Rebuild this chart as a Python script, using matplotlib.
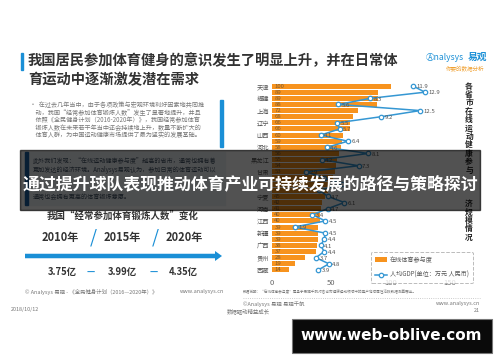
import matplotlib
matplotlib.use("Agg")
import matplotlib.pyplot as plt
from matplotlib.patches import Rectangle, FancyArrow
from matplotlib.lines import Line2D

plt.rcParams['font.family'] = ['Noto Sans CJK SC', 'DejaVu Sans']

W, H = 500, 362

provinces = ["天津", "北京", "福建", "浙江", "上海", "江苏", "辽宁", "广东", "山西", "重庆",
             "河北", "内蒙古", "黑龙江", "山东", "甘肃", "湖北", "吉林", "陕西", "宁夏", "青海",
             "河南", "湖南", "江西", "四川", "新疆", "安徽", "广西", "海南", "贵州", "云南", "西藏"]
participation = [100, 89, 89, 88, 72, 68, 66, 66, 60, 59, 58, 56, 55, 54, 53, 51, 49, 47,
                 45, 42, 41, 40, 40, 39, 39, 39, 38, 37, 28, 19, 14]
gdp = [11.9, 12.9, 8.3, 5.6, 12.5, 9.2, 5.5, 5.7, 4.1, 6.4, 4.6, 8.1, 4.2, 7.3, 2.9, 4.4,
       5.9, 4.0, 4.7, 6.1, 4.7, 3.4, 4.5, 1.9, 4.5, 4.4, 4.1, 4.4, 3.7, 4.8, 3.9]
# rows hidden behind the banner text in the reference
hidden = [15, 16, 17]

years = ["2010年", "2015年", "2020年"]
people = ["3.75亿", "3.99亿", "4.35亿"]

ORANGE = '#f7931e'
BLUE = '#3597d3'
DARK = '#333333'
GREY = '#777777'


def fx(x):
    return x / W


def fy(y):
    return 1 - y / H


fig = plt.figure(figsize=(5, 3.62), dpi=100)
fig.patch.set_facecolor('white')

# ---- chart on the right ----
left, right, top, bottom = 272, 462, 83, 273
ax = fig.add_axes([fx(left), fy(bottom), (right - left) / W, (bottom - top) / H])
rows = list(range(len(provinces)))
bars = ax.barh(rows, participation, height=0.82, color=ORANGE)
for r, v in zip(rows, participation):
    if r in hidden:
        continue
    ax.text(2, r, str(v), fontsize=4.3, color='#7a5a30', va='center', ha='left')
ax.set_xlim(0, 160)
ax.set_ylim(len(provinces) - 0.5, -0.5)
ax.set_yticks(rows[::2])
ax.set_yticklabels(["" if r in hidden else provinces[r] for r in rows[::2]],
                   fontsize=4.5, color='#555555')
ax.set_xticks([0, 50, 100, 150])
ax.tick_params(axis='x', length=0, pad=4, labelsize=5.5, labelcolor='#666666')
ax.tick_params(axis='y', length=0, pad=2)
for s in ax.spines.values():
    s.set_visible(False)
ax.set_facecolor('none')

ax2 = ax.twiny()
ax2.set_xlim(0, 190 / 11.86)
line, = ax2.plot(gdp, rows, color=BLUE, lw=1.1, marker='o', ms=3.2,
                 mfc='white', mec=BLUE, mew=0.9)
for r, g in zip(rows, gdp):
    if r in hidden:
        continue
    ax2.annotate(f"{g}", (g, r), xytext=(2.5, -0.5), textcoords='offset points',
                 fontsize=4.3, color='#555555', va='center')
ax2.set_xticks([])
for s in ax2.spines.values():
    s.set_visible(False)

leg = ax2.legend([bars, line], ["在线体育参与度", "人均GDP(单位：万元 人民币)"],
                 loc='upper left', bbox_to_anchor=(fx(368), fy(249)),
                 bbox_transform=fig.transFigure, fontsize=4.4, frameon=True,
                 handlelength=2.0, handletextpad=0.5, borderpad=0.6, labelspacing=1.2,
                 numpoints=1)
leg.get_frame().set_linestyle('--')
leg.get_frame().set_edgecolor('#aaaaaa')
leg.get_frame().set_linewidth(0.7)
for t in leg.get_texts():
    t.set_color('#555555')

# vertical chart title (characters behind the banner are not shown)
vtitle = "各省市在线运动健康参与度与经济规模情况"
for i, ch in enumerate(vtitle):
    y = 86 + i * 8.4
    if 175 < y < 198:
        continue
    fig.text(fx(469), fy(y), ch, fontsize=5.6, weight='bold',
             color='#222222', ha='center', va='center')

# ---- header ----
fig.add_artist(Rectangle((fx(21), fy(70)), 2 / W, 17 / H, transform=fig.transFigure,
                         color='#1a8fd6'))
fig.text(fx(28), fy(61), "我国居民参加体育健身的意识发生了明显上升，并在日常体",
         fontsize=10.3, weight='bold', color=DARK, va='center')
fig.text(fx(28), fy(80), "育运动中逐渐激发潜在需求",
         fontsize=10.3, weight='bold', color=DARK, va='center')
fig.text(fx(426), fy(57), "Ⓐnalysys", fontsize=6.2, color='#1a8fd6', va='center', style='italic')
fig.text(fx(468), fy(57), "易观", fontsize=7, weight='bold', color='#1a8fd6', va='center')
fig.text(fx(446), fy(68), "你要的数据分析", fontsize=4, color='#f0a030', va='center', style='italic')

# ---- left text ----
para = ["•  在过去几年当中，由于各项政策与宏观环境利好因素地共同推",
        "    动，我国“经常参加体育锻炼人数”发生了显著地提升，并且",
        "    依照《全民健身计划（2016-2020年）》，我国经常参加体育",
        "    锻炼人数在未来若干年当中还会持续地上升，数量不断扩大的",
        "    体育人群，为中国运动健康市场提供了最为坚实的发展基础。"]
for i, l in enumerate(para):
    fig.text(fx(30), fy(105 + i * 7.6), l, fontsize=4.4, color=GREY, va='center')
fig.add_artist(Rectangle((fx(220), fy(147)), 3 / W, 47 / H, transform=fig.transFigure,
                         color='#1a8fd6'))

fig.add_artist(Rectangle((fx(25), fy(205)), 200 / W, 53 / H, transform=fig.transFigure,
                         color='#eef2f6'))
fig.add_artist(Rectangle((fx(25), fy(205)), 2.5 / W, 53 / H, transform=fig.transFigure,
                         color='#1a5fa0'))
box = [(161, "此外我们发现：“在线运动健康参与度”越高的省市，通常也拥有着"),
       (170, "更加发达的经济环境。Analysys易观认为，参加日常的体育运动可以"),
       (197, "通常也会拥有更高的体育锻炼意愿。")]
for y, l in box:
    fig.text(fx(33), fy(y), l, fontsize=4.4, color='#445566', va='center')

fig.text(fx(47), fy(216), "我国“经常参加体育锻炼人数”变化", fontsize=6.8, weight='bold',
         color=DARK, va='center')
for x, t in zip([60, 122, 184], years):
    fig.text(fx(x), fy(238), t, fontsize=8, weight='bold', color=DARK, ha='center', va='center')
for x in [93, 155]:
    fig.text(fx(x), fy(238), "/", fontsize=13, color='#1a8fd6', ha='center', va='center')
fig.add_artist(FancyArrow(fx(25), fy(256), 190 / W, 0, width=4.5 / H, head_width=10 / H,
                          head_length=7 / W, length_includes_head=False,
                          transform=fig.transFigure, color='#1a8fd6', lw=0))
for x, t in zip([62, 122, 183], people):
    fig.text(fx(x), fy(272), t, fontsize=6.8, weight='bold', color=DARK, ha='center', va='center')
for x in [91, 154]:
    fig.text(fx(x), fy(272), "—", fontsize=6.5, weight='bold', color='#1a8fd6',
             ha='center', va='center')

fig.text(fx(25), fy(292), "© Analysys 易观 - 《全民健身计划（2016—2020年）》",
         fontsize=3.9, color=GREY, va='center')
fig.text(fx(224), fy(292), "www.analysys.cn", fontsize=3.9, color=GREY, va='center', ha='right')
fig.text(fx(11), fy(310), "2018/10/12", fontsize=3.9, color=GREY, va='center')

# ---- chart footer ----
fig.text(fx(243), fy(292), "数据说明：“在线体育参与度”是基于易观千帆对各省市健康运动领域中的用户地域属性活跃数据测算而出。",
         fontsize=2.6, color=GREY, va='center')
fig.add_artist(Line2D([fx(243), fx(480)], [fy(298), fy(298)], transform=fig.transFigure,
                      color='#bbbbbb', lw=0.6, ls=':'))
fig.text(fx(243), fy(304), "©Analysys 易观 易观千帆", fontsize=3.9, color=GREY, va='center')
fig.text(fx(227), fy(311), "数据驱动精益成长", fontsize=3.9, color=GREY, va='center')
fig.text(fx(480), fy(304), "www.analysys.cn", fontsize=3.9, color=GREY, va='center', ha='right')
fig.text(fx(480), fy(311), "21", fontsize=3.9, color=GREY, va='center', ha='right')

# ---- overlay band ----
fig.add_artist(Rectangle((fx(20), fy(210)), 460 / W, 60 / H, transform=fig.transFigure,
                         color='black', alpha=0.68, zorder=10))
fig.text(fx(250), fy(185), "通过提升球队表现推动体育产业可持续发展的路径与策略探讨",
         fontsize=12.2, weight='bold', color='white', ha='center', va='center', zorder=11)

fig.add_artist(Rectangle((fx(292), fy(353)), 200 / W, 34 / H, transform=fig.transFigure,
                         facecolor='#0a0a0a', edgecolor='#777777', lw=0.8, zorder=10))
fig.text(fx(391), fy(336), "www.web-oblive.com", fontsize=11, weight='bold', color='white',
         ha='center', va='center', zorder=11, family='DejaVu Sans')

fig.savefig('out.png', dpi=100, facecolor='white')
